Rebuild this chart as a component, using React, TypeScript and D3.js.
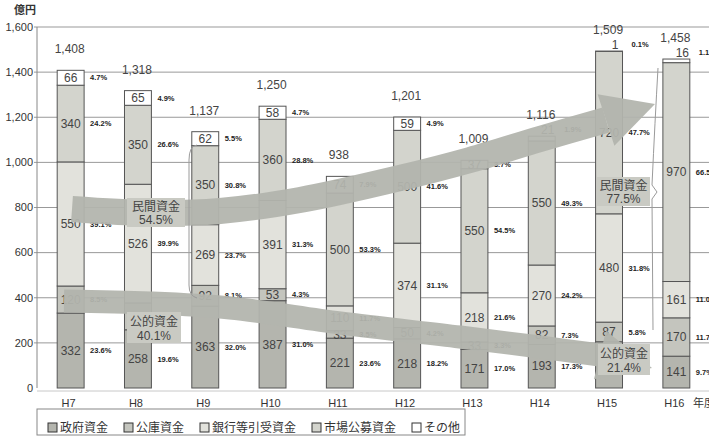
import React from "react";
import * as d3 from "d3";

// ---- data (億円) ----
const categories = ["H7", "H8", "H9", "H10", "H11", "H12", "H13", "H14", "H15", "H16"];
const seriesNames = ["政府資金", "公庫資金", "銀行等引受資金", "市場公募資金", "その他"];
const govFunds = [332, 258, 363, 387, 221, 218, 171, 193, 205, 141];
const koukoFunds = [120, 119, 92, 53, 33, 50, 33, 82, 87, 170];
const bankFunds = [550, 526, 269, 391, 110, 374, 218, 270, 480, 161];
const marketFunds = [340, 350, 350, 360, 500, 500, 550, 550, 720, 970];
const otherFunds = [66, 65, 62, 58, 74, 59, 37, 21, 1, 16];
const govPct = [23.6, 19.6, 32.0, 31.0, 23.6, 18.2, 17.0, 17.3, 14.6, 9.7];
const koukoPct = [8.5, 9.0, 8.1, 4.3, 3.5, 4.2, 3.3, 7.3, 5.8, 11.7];
const bankPct = [39.1, 39.9, 23.7, 31.3, 11.7, 31.1, 21.6, 24.2, 31.8, 11.0];
const marketPct = [24.2, 26.6, 30.8, 28.8, 53.3, 41.6, 54.5, 49.3, 47.7, 66.5];
const otherPct = [4.7, 4.9, 5.5, 4.7, 7.9, 4.9, 3.7, 1.9, 0.1, 1.1];
const totals = [1408, 1318, 1137, 1250, 938, 1201, 1009, 1116, 1509, 1458];
const yTicks = [0, 200, 400, 600, 800, 1000, 1200, 1400, 1600];
const privateLabels = ["民間資金", "54.5%", "民間資金", "77.5%"];
const publicLabels = ["公的資金", "40.1%", "公的資金", "21.4%"];

const seriesValues = [govFunds, koukoFunds, bankFunds, marketFunds, otherFunds];
const seriesPcts = [govPct, koukoPct, bankPct, marketPct, otherPct];
const seriesColors = ["#b4b5ae", "#c4c5be", "#e2e2dc", "#d3d4cd", "#ffffff"];

const W = 709;
const H = 438;
const JP = "'Noto Sans CJK JP', 'Noto Sans', sans-serif";
const NUM = "'Liberation Sans', Arial, sans-serif";

function arrowHead(base: [number, number], tip: [number, number], half: number) {
  const dx = tip[0] - base[0];
  const dy = tip[1] - base[1];
  const len = Math.hypot(dx, dy);
  const px = -dy / len;
  const py = dx / len;
  return [
    [base[0] + px * half, base[1] + py * half],
    tip,
    [base[0] - px * half, base[1] - py * half],
  ];
}

export default function App() {
  const x = d3.scaleBand<string>().domain(categories).range([37, 710]).paddingInner(0.6).paddingOuter(0.3);
  const y = d3.scaleLinear().domain([0, 1600]).range([388, 27]);
  const bw = x.bandwidth();

  const rows = categories.map((c, i) => {
    const r: any = { cat: c };
    seriesNames.forEach((s, k) => (r[s] = seriesValues[k][i]));
    return r;
  });
  const stacked = d3.stack<any>().keys(seriesNames)(rows);

  const line = d3.line<[number, number]>().curve(d3.curveCatmullRom);

  const upperPts: [number, number][] = [
    [72, 209], [150, 213], [220, 211], [300, 200], [400, 178], [470, 160], [540, 139], [606, 120],
  ];
  const upperTip: [number, number] = [655, 104];
  const lowerPts: [number, number][] = [
    [64, 301], [150, 303], [230, 308], [340, 323], [460, 337], [540, 347], [600, 355],
  ];
  const lowerTip: [number, number] = [652, 368];

  const headU = arrowHead(upperPts[upperPts.length - 1], upperTip, 27);
  const headL = arrowHead(lowerPts[lowerPts.length - 1], lowerTip, 25);

  const legendStarts: number[] = [];
  let lx = 48;
  seriesNames.forEach((s) => {
    legendStarts.push(lx);
    lx += s.length * 12 + 28;
  });

  const boxes = [
    { x: 127, y: 198, w: 58, h: 29, t: privateLabels[0], p: privateLabels[1] },
    { x: 127, y: 312, w: 54, h: 31, t: publicLabels[0], p: publicLabels[1] },
    { x: 597, y: 177, w: 53, h: 29, t: privateLabels[2], p: privateLabels[3] },
    { x: 598, y: 344, w: 52, h: 31, t: publicLabels[2], p: publicLabels[3] },
  ];

  const arrowFill = "#b3b5ae";

  return (
    <svg width={W} height={H} style={{ position: "absolute", left: 0, top: 0, background: "#fff" }}>
      <rect x={0} y={0} width={W} height={H} fill="#fff" />
      {/* unit */}
      <text x={14} y={14} fontFamily={JP} fontSize={11} fontWeight="bold" fill="#333">億円</text>
      {/* gridlines */}
      {yTicks.map((t) => (
        <g key={t}>
          {t > 0 && <line x1={34} x2={W} y1={y(t)} y2={y(t)} stroke="#999" strokeWidth={1} />}
          <text x={33} y={y(t)} dy="0.35em" textAnchor="end" fontFamily={NUM} fontSize={11} fill="#333">
            {d3.format(",")(t)}
          </text>
        </g>
      ))}
      <line x1={37} x2={37} y1={y(1600)} y2={y(0)} stroke="#888" />
      <line x1={37} x2={W} y1={y(0) + 3} y2={y(0) + 3} stroke="#c8c8c8" />
      {/* bars */}
      {stacked.map((layer, k) =>
        layer.map((d, i) => {
          const v = seriesValues[k][i];
          if (v <= 0) return null;
          const bx = x(categories[i]) as number;
          return (
            <rect
              key={`${k}-${i}`}
              x={bx}
              y={y(d[1])}
              width={bw}
              height={y(d[0]) - y(d[1])}
              fill={seriesColors[k]}
              stroke="#555"
              strokeWidth={1}
            />
          );
        })
      )}
      {/* value & percent labels */}
      {stacked.map((layer, k) =>
        layer.map((d, i) => {
          const v = seriesValues[k][i];
          if (v <= 0) return null;
          const bx = x(categories[i]) as number;
          const tiny = v < 25;
          const cy = tiny ? y(d[1]) - 6 : (y(d[0]) + y(d[1])) / 2;
          return (
            <g key={`l-${k}-${i}`}>
              <text
                x={tiny ? bx + bw / 2 + 6 : bx + bw / 2}
                y={cy}
                dy="0.35em"
                textAnchor="middle"
                fontFamily={NUM}
                fontSize={12}
                fill="#444"
              >
                {v}
              </text>
              <text
                x={bx + bw + (tiny ? 9 : 6)}
                y={tiny ? cy - 1 : cy}
                dy="0.35em"
                fontFamily={NUM}
                fontSize={7.5}
                fontWeight="bold"
                fill="#222"
              >
                {seriesPcts[k][i].toFixed(1)}%
              </text>
            </g>
          );
        })
      )}
      {/* totals */}
      {categories.map((c, i) => {
        const top = stacked[stacked.length - 1][i][1];
        return (
          <text
            key={`t-${c}`}
            x={(x(c) as number) + bw / 2 - 1}
            y={y(top) - 17}
            textAnchor="middle"
            fontFamily={NUM}
            fontSize={12}
            fill="#444"
          >
            {d3.format(",")(totals[i])}
          </text>
        );
      })}
      {/* x labels */}
      {categories.map((c) => (
        <text
          key={`x-${c}`}
          x={(x(c) as number) + bw / 2 - 2}
          y={403}
          dy="0.35em"
          textAnchor="middle"
          fontFamily={NUM}
          fontSize={11}
          fill="#333"
        >
          {c}
        </text>
      ))}
      <text x={693} y={403} dy="0.35em" fontFamily={JP} fontSize={11} fill="#333">年度</text>
      {/* arrows */}
      <g opacity={0.94}>
        <path d={line(upperPts) || ""} fill="none" stroke={arrowFill} strokeWidth={26} />
        <polygon points={headU.map((p) => p.join(",")).join(" ")} fill={arrowFill} />
        <path d={line(lowerPts) || ""} fill="none" stroke={arrowFill} strokeWidth={23} />
        <polygon points={headL.map((p) => p.join(",")).join(" ")} fill={arrowFill} />
      </g>
      {boxes.map((b, i) => (
        <g key={`b-${i}`}>
          <rect x={b.x} y={b.y} width={b.w} height={b.h} fill="#c9cac3" />
          <text x={b.x + b.w / 2} y={b.y + b.h * 0.3} dy="0.35em" textAnchor="middle" fontFamily={JP} fontSize={12} fill="#444">
            {b.t}
          </text>
          <text x={b.x + b.w / 2} y={b.y + b.h * 0.76} dy="0.35em" textAnchor="middle" fontFamily={NUM} fontSize={12} fill="#444">
            {b.p}
          </text>
        </g>
      ))}
      {/* hand-drawn brackets */}
      <path d="M197,145 Q189,146 189,160 L189,285 Q189,296 197,298" fill="none" stroke="#9a9a9a" strokeWidth={1} />
      <path d="M658,68 Q655,120 652,185 L657,192 L652,199 L653,330" fill="none" stroke="#9a9a9a" strokeWidth={1} />
      {/* legend */}
      <rect x={37} y={409} width={428} height={26} fill="#fff" stroke="#888" strokeWidth={1} />
      {seriesNames.map((s, k) => (
        <g key={`lg-${s}`}>
          <rect x={legendStarts[k]} y={423} width={9} height={9} fill={seriesColors[k]} stroke="#333" strokeWidth={1} />
          <text x={legendStarts[k] + 12} y={427.5} dy="0.35em" fontFamily={JP} fontSize={12} fill="#333">
            {s}
          </text>
        </g>
      ))}
    </svg>
  );
}
